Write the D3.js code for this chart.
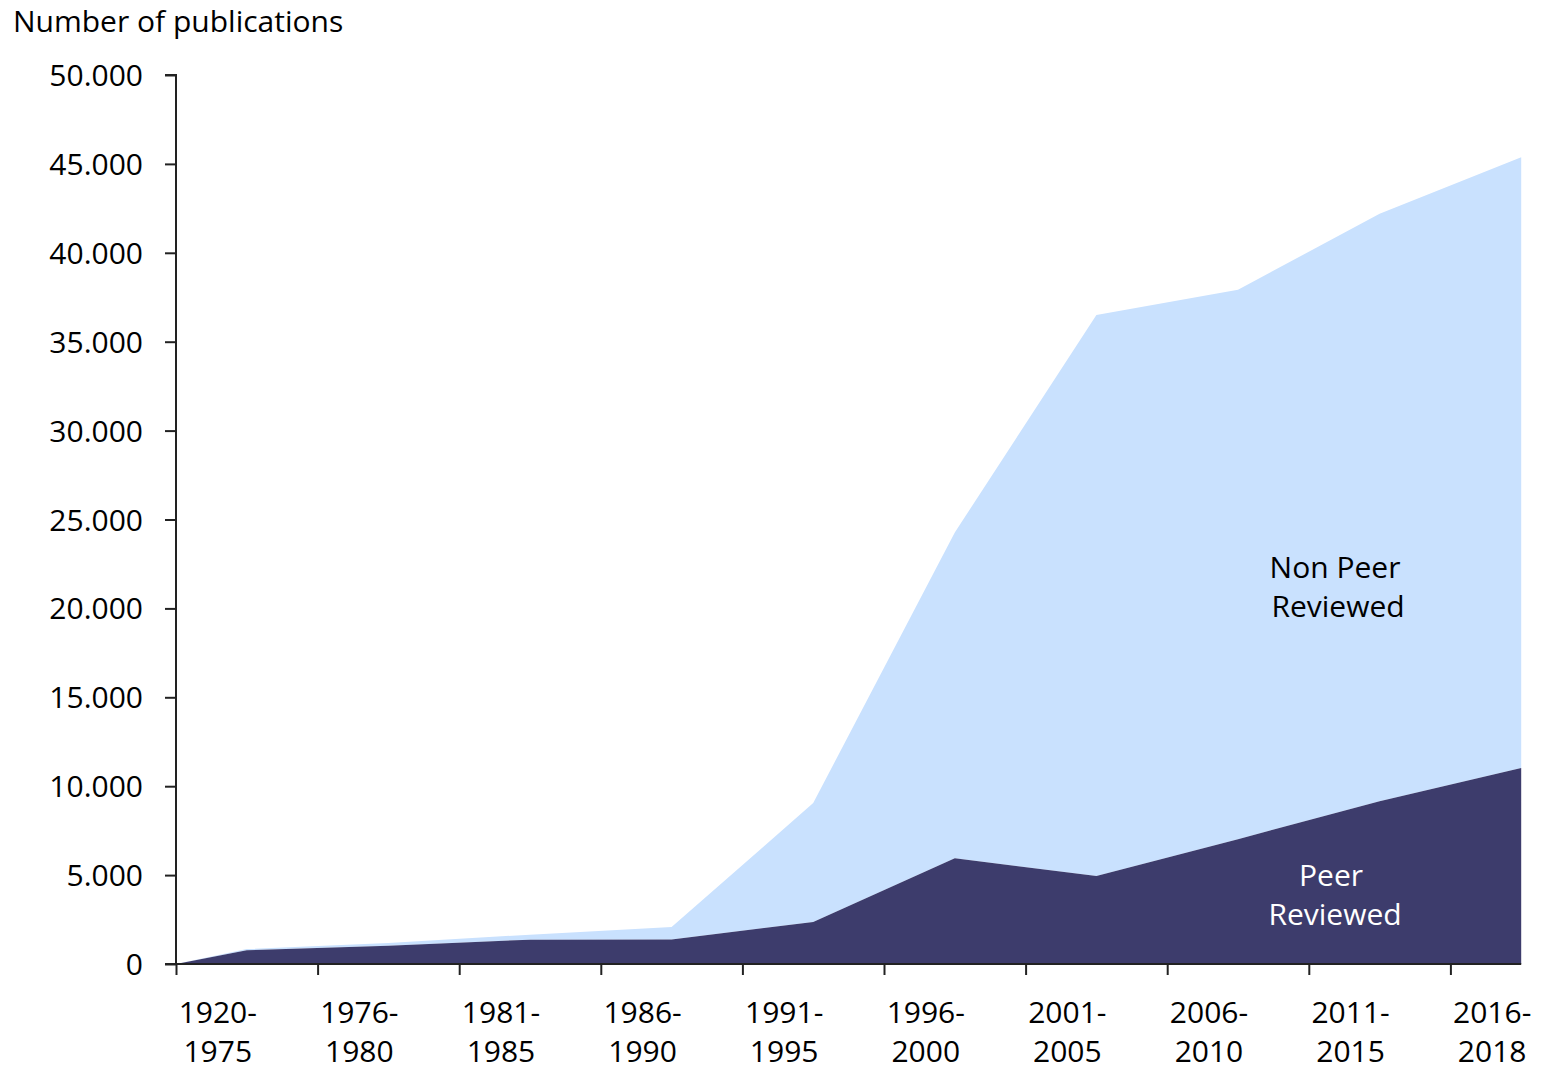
<!DOCTYPE html>
<html>
<head>
<meta charset="utf-8">
<script src="https://cdn.jsdelivr.net/npm/d3@7"></script>
<style>
  body { margin: 0; background: #fff; }
  text { font-family: "Open Sans", "Noto Sans", sans-serif; }
</style>
</head>
<body>
<svg id="chart" width="1541" height="1068"></svg>
<script>
// periods, as they appear under the axis
const periodStart = ["1920-", "1976-", "1981-", "1986-", "1991-", "1996-", "2001-", "2006-", "2011-", "2016-"];
const periodEnd = ["1975", "1980", "1985", "1990", "1995", "2000", "2005", "2010", "2015", "2018"];

// publications per period
const peerReviewed = [770, 1030, 1370, 1380, 2360, 5950, 4950, 7020, 9160, 11020];
const nonPeerReviewed = [70, 150, 280, 700, 6690, 18320, 31550, 30900, 33040, 34360];

const yTicks = [0, 5000, 10000, 15000, 20000, 25000, 30000, 35000, 40000, 45000, 50000];

const svg = d3.select("#chart");
const fontSize = "30px";

// x: one unit per period, ticks on the period borders
const x = d3.scaleLinear().domain([0, 10]).range([176, 1592]);
const y = d3.scaleLinear().domain([0, 50000]).range([964, 75]);

// build rows: a zero anchor at the axis start, then one point per period centre
const rows = [{ pos: 0, peer: 0, nonpeer: 0 }];
peerReviewed.forEach((v, i) => {
    rows.push({ pos: i + 0.5, peer: v, nonpeer: nonPeerReviewed[i] });
});

const stack = d3.stack().keys(["peer", "nonpeer"]);
const series = stack(rows);
const colors = { peer: "#3d3c6c", nonpeer: "#c9e1fe" };

const area = d3.area()
    .x(d => x(d.data.pos))
    .y0(d => y(d[0]))
    .y1(d => y(d[1]));

// draw the top layer first so the dark one sits in front
svg.append("g")
    .selectAll("path")
    .data(series.slice().reverse())
    .enter().append("path")
    .attr("d", area)
    .attr("fill", d => colors[d.key]);

// y axis
const yAxis = svg.append("g")
    .attr("transform", `translate(${x(0)},0)`)
    .call(d3.axisLeft(y).tickValues(yTicks).tickSize(11).tickPadding(22)
        .tickFormat(d => d3.format(",")(d).replace(/,/g, ".")));
yAxis.select(".domain").attr("stroke", "#222").attr("stroke-width", 2)
    .attr("d", `M-11,${y(50000)}H0V${y(0)}`);
yAxis.selectAll(".tick line").attr("stroke", "#222").attr("stroke-width", 2);
yAxis.selectAll(".tick text").attr("font-size", fontSize).attr("fill", "#000")
    .attr("dy", "0.35em");

// x axis
const xAxis = svg.append("g")
    .attr("transform", `translate(0,${y(0)})`)
    .call(d3.axisBottom(x).tickValues(d3.range(0, 10)).tickSize(11).tickFormat(""));
xAxis.select(".domain").attr("stroke", "#222").attr("stroke-width", 2)
    .attr("d", `M${x(0) - 11},0H${x(9.5)}`);
xAxis.selectAll(".tick line").attr("stroke", "#222").attr("stroke-width", 2);

const labels = svg.append("g").attr("font-size", fontSize).attr("fill", "#000")
    .attr("text-anchor", "middle");
periodStart.forEach((s, i) => {
    const cx = x(i + 0.295);
    const t = labels.append("text").attr("y", 1023);
    t.append("tspan").attr("x", cx).text(s);
    t.append("tspan").attr("x", cx).attr("dy", 39).text(periodEnd[i]);
});

// title
svg.append("text")
    .attr("x", 13).attr("y", 32)
    .attr("font-size", fontSize).attr("fill", "#000")
    .text("Number of publications");

// series labels inside the areas
const inner = svg.append("g").attr("font-size", fontSize).attr("text-anchor", "middle");
const nonLab = inner.append("text").attr("fill", "#000");
nonLab.append("tspan").attr("x", 1335).attr("y", 578).text("Non Peer");
nonLab.append("tspan").attr("x", 1338).attr("y", 617).text("Reviewed");
const peerLab = inner.append("text").attr("fill", "#fff");
peerLab.append("tspan").attr("x", 1331).attr("y", 886).text("Peer");
peerLab.append("tspan").attr("x", 1335).attr("y", 925).text("Reviewed");
</script>
</body>
</html>
